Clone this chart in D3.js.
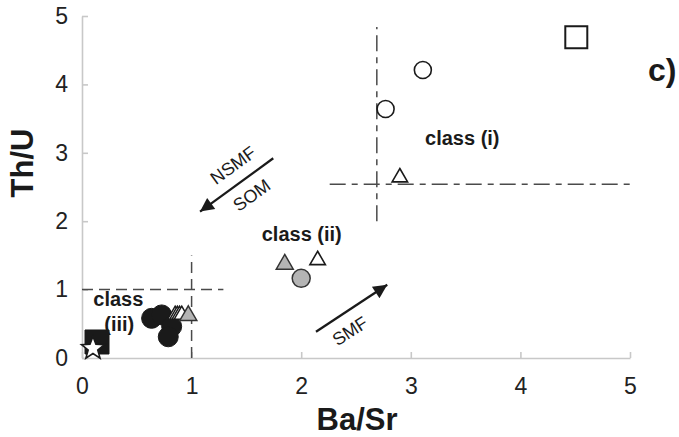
<!DOCTYPE html>
<html>
<head>
<meta charset="utf-8">
<script src="https://cdn.jsdelivr.net/npm/d3@7"></script>
<style>
  html, body { margin: 0; padding: 0; background: #fff; }
  svg { display: block; font-family: "Liberation Sans", Arial, sans-serif; }
</style>
</head>
<body>
<svg id="chart" width="679" height="437"></svg>
<script>
// Ba/Sr vs Th/U discrimination plot, panel c)

// Axis ticks
const xTicks = [0, 1, 2, 3, 4, 5];
const yTicks = [0, 1, 2, 3, 4, 5];

// Sample groups, one pair of arrays per marker style
const openSquareX = [4.51];
const openSquareY = [4.69];
const openCircleX = [3.11, 2.77];
const openCircleY = [4.21, 3.64];
const openTriangleX = [2.90, 2.15];
const openTriangleY = [2.64, 1.43];
const grayCircleX = [2.00];
const grayCircleY = [1.165];
const blackCircleX = [0.635, 0.727, 0.818, 0.787];
const blackCircleY = [0.58, 0.63, 0.46, 0.31];
const stackedTriangleX = [0.85, 0.87, 0.89, 0.91];
const stackedTriangleY = [0.63, 0.63, 0.63, 0.63];
const grayTriangleX = [1.85, 0.97];
const grayTriangleY = [1.37, 0.62];
const blackSquareX = [0.137];
const blackSquareY = [0.234];
const starX = [0.10];
const starY = [0.14];

// Class boundary lines [x1, y1, x2, y2]
const dashedLines = [[0, 1, 1.29, 1], [1.0, 0, 1.0, 1.5]];
const dashDotLines = [[2.69, 2.0, 2.69, 4.84], [2.26, 2.54, 5.03, 2.54]];

// Trend arrows [fromX, fromY, toX, toY]
const arrows = [[1.745, 2.92, 1.077, 2.14], [2.135, 0.385, 2.785, 1.07]];

// Text annotations
const classLabels = ["class (i)", "class (ii)", "class", "(iii)"];
const classLabelX = [3.13, 1.64, 0.103, 0.203];
const classLabelY = [3.11, 1.715, 0.765, 0.40];
const arrowLabels = ["NSMF", "SOM", "SMF"];
const arrowLabelX = [1.378, 1.548, 2.445];
const arrowLabelY = [2.82, 2.38, 0.395];
const arrowLabelAngle = [-36, -36, -33];

const svg = d3.select("#chart");
const x = d3.scaleLinear().domain([0, 5]).range([82, 630]);
const y = d3.scaleLinear().domain([0, 5]).range([358, 16]);

const ink = "#1a1a1a";
const axisGray = "#c8c8c8";
const gray = "#b4b4b4";

// Axes
const gx = svg.append("g").attr("transform", `translate(0,${y(0)})`)
  .call(d3.axisBottom(x).tickValues(xTicks).tickFormat(d3.format("d"))
    .tickSizeInner(-6).tickSizeOuter(0).tickPadding(20));
const gy = svg.append("g").attr("transform", `translate(${x(0)},0)`)
  .call(d3.axisLeft(y).tickValues(yTicks).tickFormat(d3.format("d"))
    .tickSizeInner(-6).tickSizeOuter(0).tickPadding(14));
[gx, gy].forEach(g => {
  g.select(".domain").attr("stroke", axisGray).attr("stroke-width", 1.6);
  g.selectAll(".tick line").attr("stroke", axisGray).attr("stroke-width", 1.6);
  g.selectAll(".tick text").attr("fill", "#222").attr("font-size", 23)
    .attr("font-family", "Liberation Sans, Arial, sans-serif");
});

// Axis titles
svg.append("text").attr("x", 357).attr("y", 430).attr("text-anchor", "middle")
  .attr("font-size", 31).attr("font-weight", "bold").attr("fill", ink).text("Ba/Sr");
svg.append("text").attr("transform", "translate(33,163) rotate(-90)").attr("text-anchor", "middle")
  .attr("font-size", 31).attr("font-weight", "bold").attr("fill", ink).text("Th/U");

// Panel letter
svg.append("text").attr("x", 648).attr("y", 81).attr("font-size", 32)
  .attr("font-weight", "bold").attr("fill", ink).text("c)");

// Boundary lines
const lineG = svg.append("g").attr("fill", "none").attr("stroke", "#4a4a4a").attr("stroke-width", 1.5);
lineG.selectAll(".dashed").data(dashedLines).join("line").attr("class", "dashed")
  .attr("x1", d => x(d[0])).attr("y1", d => y(d[1]))
  .attr("x2", d => x(d[2])).attr("y2", d => y(d[3]))
  .attr("stroke-dasharray", "11,6");
lineG.selectAll(".dashdot").data(dashDotLines).join("line").attr("class", "dashdot")
  .attr("x1", d => x(d[0])).attr("y1", d => y(d[1]))
  .attr("x2", d => x(d[2])).attr("y2", d => y(d[3]))
  .attr("stroke-dasharray", "16,6,6,6");

// Arrows
const defs = svg.append("defs");
defs.append("marker").attr("id", "head").attr("viewBox", "0 0 10 10")
  .attr("refX", 10).attr("refY", 5).attr("markerWidth", 8).attr("markerHeight", 6)
  .attr("markerUnits", "strokeWidth").attr("orient", "auto")
  .append("path").attr("d", "M0,0 L10,5 L0,10 Z").attr("fill", ink);
svg.append("g").selectAll("line").data(arrows).join("line")
  .attr("x1", d => x(d[0])).attr("y1", d => y(d[1]))
  .attr("x2", d => x(d[2])).attr("y2", d => y(d[3]))
  .attr("stroke", ink).attr("stroke-width", 2.3).attr("marker-end", "url(#head)");

svg.append("g").selectAll("text").data(arrowLabels).join("text")
  .attr("transform", (d, i) => `translate(${x(arrowLabelX[i])},${y(arrowLabelY[i])}) rotate(${arrowLabelAngle[i]})`)
  .attr("text-anchor", "middle").attr("dy", "0.35em")
  .attr("font-size", 18).attr("fill", ink).text(d => d);

// Class labels
svg.append("g").selectAll("text").data(classLabels).join("text")
  .attr("x", (d, i) => x(classLabelX[i])).attr("y", (d, i) => y(classLabelY[i]))
  .attr("font-size", 20).attr("font-weight", "bold").attr("fill", ink).text(d => d);

// Marker helpers
const tri = w => d3.symbol().type(d3.symbolTriangle).size(Math.pow(w / (2 * Math.sqrt(3)), 2) * 3 * Math.sqrt(3))();
function starPath(R) {
  const r = R * 0.42, pts = [];
  for (let k = 0; k < 10; k++) {
    const a = -Math.PI / 2 + k * Math.PI / 5, rr = k % 2 ? r : R;
    pts.push([rr * Math.cos(a), rr * Math.sin(a)]);
  }
  return "M" + pts.map(p => p.join(",")).join("L") + "Z";
}
function plot(xs, ys, path, fill, stroke, sw) {
  svg.append("g").selectAll("path").data(xs).join("path")
    .attr("transform", (d, i) => `translate(${x(d)},${y(ys[i])})`)
    .attr("d", path).attr("fill", fill).attr("stroke", stroke).attr("stroke-width", sw);
}

// Class (i)
plot(openSquareX, openSquareY, d3.symbol().type(d3.symbolSquare).size(22 * 22)(), "#fff", ink, 2);
plot(openCircleX, openCircleY, d3.symbol().type(d3.symbolCircle).size(Math.PI * 8.5 * 8.5)(), "#fff", ink, 1.6);
plot(openTriangleX, openTriangleY, tri(15.5), "#fff", ink, 1.6);
// Class (ii)
plot(grayCircleX, grayCircleY, d3.symbol().type(d3.symbolCircle).size(Math.PI * 9 * 9)(), gray, "#333", 1.5);
// Class (iii)
plot(blackSquareX, blackSquareY, d3.symbol().type(d3.symbolSquare).size(24 * 24)(), ink, ink, 1);
plot(starX, starY, starPath(12), "#fff", ink, 1.6);
plot(blackCircleX, blackCircleY, d3.symbol().type(d3.symbolCircle).size(Math.PI * 10 * 10)(), ink, ink, 1);
plot(stackedTriangleX, stackedTriangleY, tri(15), "#fff", ink, 1.5);
plot(grayTriangleX, grayTriangleY, tri(17), gray, "#333", 1.5);
</script>
</body>
</html>
